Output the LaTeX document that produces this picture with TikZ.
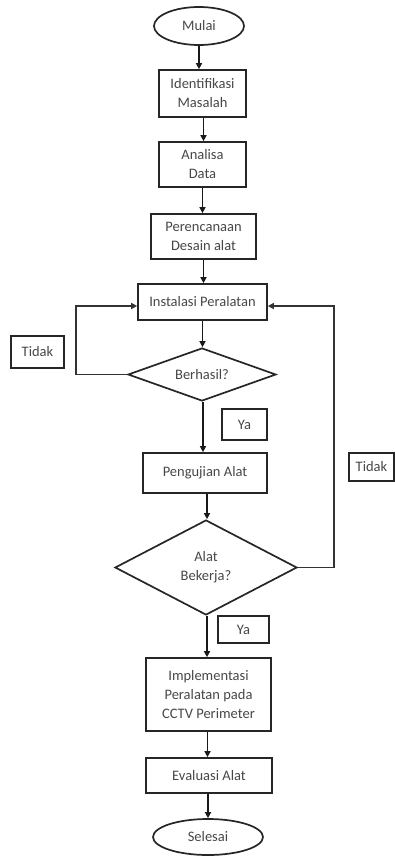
\documentclass[tikz,border=0pt]{standalone}
\usepackage{fontspec}
\setmainfont{Carlito}
\usetikzlibrary{shapes.geometric,arrows.meta}
\begin{document}
\begin{tikzpicture}[x=1pt,y=-1pt,
  every node/.style={font=\fontsize{14.5}{19}\selectfont, text=black!72, align=center, inner sep=0pt},
  box/.style={draw=black!85, line width=1.7pt, rectangle},
  term/.style={draw=black!85, line width=1.7pt, ellipse},
  dec/.style={draw=black!85, line width=1.7pt, diamond},
  lbl/.style={draw=black!85, line width=1.7pt, rectangle},
  flow/.style={draw=black!90, line width=1.7pt, -{Triangle[length=6pt,width=6pt]}},
  loopline/.style={draw=black!80, line width=1.7pt, -{Triangle[length=6pt,width=6pt]}}
]
\useasboundingbox (0,0) rectangle (395,856);
\node[term, minimum width=90pt, minimum height=38pt] (mulai) at (199,26) {Mulai};
\node[box, minimum width=87pt, minimum height=47pt] (ident) at (202.5,93.5) {Identifikasi\\Masalah};
\node[box, minimum width=87pt, minimum height=45pt] (anal) at (202.5,164.5) {Analisa\\Data};
\node[box, minimum width=105pt, minimum height=45pt] (peren) at (203.5,236.5) {Perencanaan\\Desain alat};
\node[box, minimum width=129pt, minimum height=36pt] (inst) at (202.5,302) {Instalasi Peralatan};
\node[dec, minimum width=148pt, minimum height=53pt, shape aspect=2.8] (berh) at (202,374.5) {Berhasil?};
\node[lbl, minimum width=45pt, minimum height=31pt] (ya1) at (244.5,424.5) {Ya};
\node[lbl, minimum width=53pt, minimum height=32pt] (tidakL) at (37.5,352) {Tidak};
\node[box, minimum width=124pt, minimum height=40pt] (peng) at (205,473) {Pengujian Alat};
\node[lbl, minimum width=45pt, minimum height=28pt] (tidakR) at (371.5,467) {Tidak};
\node[dec, minimum width=182pt, minimum height=95pt, shape aspect=1.92] (alat) at (206,567.5) {Alat\\Bekerja?};
\node[lbl, minimum width=51pt, minimum height=27pt] (ya2) at (243.5,629.5) {Ya};
\node[box, minimum width=125pt, minimum height=73pt] (impl) at (208.5,694.5) {Implementasi\\Peralatan pada\\CCTV Perimeter};
\node[box, minimum width=126pt, minimum height=35pt] (eval) at (209,775.5) {Evaluasi Alat};
\node[term, minimum width=110pt, minimum height=36pt] (sel) at (208,837) {Selesai};

\draw[flow] (mulai.south) -- (mulai.south |- ident.north);
\draw[flow] ([xshift=1pt]ident.south) -- ([xshift=1pt]ident.south |- anal.north);
\draw[flow] (anal.south) -- (anal.south |- peren.north);
\draw[flow] (peren.south) -- (peren.south |- inst.north);
\draw[flow] (inst.south) -- (inst.south |- berh.north);
\draw[flow] ([xshift=1pt]berh.south) -- ([xshift=1pt]berh.south |- peng.north);
\draw[flow] ([xshift=2pt]peng.south) -- ([xshift=2pt]peng.south |- alat.north);
\draw[flow] ([xshift=1pt]alat.south) -- ([xshift=1pt]alat.south |- impl.north);
\draw[flow] ([xshift=-1pt]impl.south) -- ([xshift=-1pt]impl.south |- eval.north);
\draw[flow] ([xshift=-1pt]eval.south) -- ([xshift=-1pt]eval.south |- sel.north);

\draw[loopline] (berh.west) -- ++(-51,0) |- ([yshift=-4pt]inst.west);
\draw[loopline] (alat.east) -- ++(36,0) |- ([yshift=-4pt]inst.east);
\end{tikzpicture}
\end{document}
